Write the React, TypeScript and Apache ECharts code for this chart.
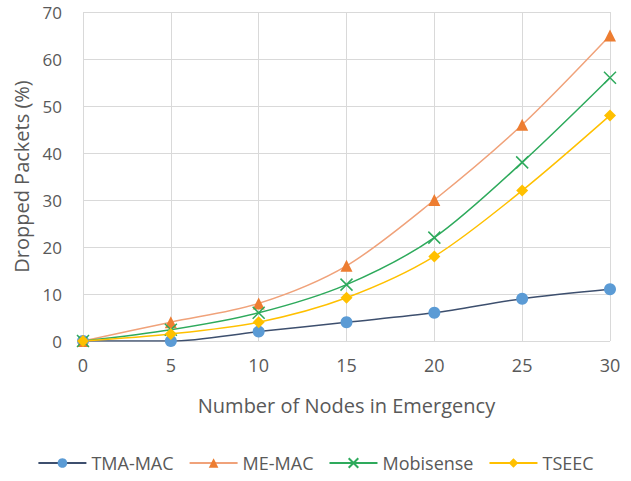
import React, { useEffect, useRef } from "react";
import * as echarts from "echarts";

const nodes = [0, 5, 10, 15, 20, 25, 30];
const tmaMac = [0, 0, 2, 4, 6, 9, 11];
const meMac = [0, 4, 8, 16, 30, 46, 65];
const mobisense = [0, 2.4, 6, 12, 22, 38, 56];
const tseec = [0, 1.5, 4, 9.2, 18, 32, 48];

const pairs = (ys: number[]) => nodes.map((x, i) => [x, ys[i]]);

export default function App() {
  const ref = useRef<HTMLDivElement>(null);
  useEffect(() => {
    const chart = echarts.init(ref.current!, null, { renderer: "svg" });
    const font = "'Open Sans', Lato, sans-serif";
    const fs = 18;
    chart.setOption({
      animation: false,
      textStyle: { fontFamily: font },
      grid: { left: 83, right: 21, top: 12, bottom: 140 },
      legend: {
        bottom: 4,
        left: "center",
        itemWidth: 48,
        itemHeight: 12,
        itemGap: 15,
        textStyle: { color: "#595959", fontSize: fs, fontFamily: font },
        data: ["TMA-MAC", "ME-MAC", "Mobisense", "TSEEC"],
      },
      xAxis: {
        type: "value",
        min: 0,
        max: 30,
        interval: 5,
        name: "Number of Nodes in Emergency",
        nameLocation: "middle",
        nameGap: 54,
        nameTextStyle: { color: "#595959", fontSize: 20, fontFamily: font },
        axisLine: { show: false },
        axisTick: { show: false },
        axisLabel: { color: "#595959", fontSize: fs, margin: 15 },
        splitLine: { show: true, lineStyle: { color: "#d9d9d9", width: 1 } },
      },
      yAxis: {
        type: "value",
        min: 0,
        max: 70,
        interval: 10,
        name: "Dropped Packets (%)",
        nameLocation: "middle",
        nameGap: 52,
        nameTextStyle: { color: "#595959", fontSize: 20, fontFamily: font },
        axisLine: { show: false },
        axisTick: { show: false },
        axisLabel: { color: "#595959", fontSize: 17, margin: 21 },
        splitLine: { show: true, lineStyle: { color: "#d9d9d9", width: 1 } },
      },
      series: [
        {
          name: "TMA-MAC",
          type: "line",
          data: pairs(tmaMac),
          smooth: 0.3,
          symbol: "circle",
          symbolSize: 12,
          lineStyle: { color: "#3d4f6e", width: 1.5 },
          itemStyle: { color: "#5b9bd5" },
        },
        {
          name: "ME-MAC",
          type: "line",
          data: pairs(meMac),
          smooth: 0.3,
          symbol: "triangle",
          symbolSize: 12,
          lineStyle: { color: "#f0a27a", width: 1.5 },
          itemStyle: { color: "#ed7d31" },
        },
        {
          name: "Mobisense",
          type: "line",
          data: pairs(mobisense),
          smooth: 0.3,
          symbol: "path://M0,0L10,10M10,0L0,10",
          symbolSize: 12,
          lineStyle: { color: "#2eaa5c", width: 1.5 },
          itemStyle: { color: "#2eaa5c", borderColor: "#2eaa5c", borderWidth: 1.5 },
        },
        {
          name: "TSEEC",
          type: "line",
          data: pairs(tseec),
          smooth: 0.3,
          symbol: "diamond",
          symbolSize: 12,
          lineStyle: { color: "#ffc000", width: 1.5 },
          itemStyle: { color: "#ffc000" },
        },
      ],
    });
    return () => chart.dispose();
  }, []);
  return (
    <div
      ref={ref}
      style={{ position: "absolute", left: 0, top: 0, width: 631, height: 481 }}
    />
  );
}
